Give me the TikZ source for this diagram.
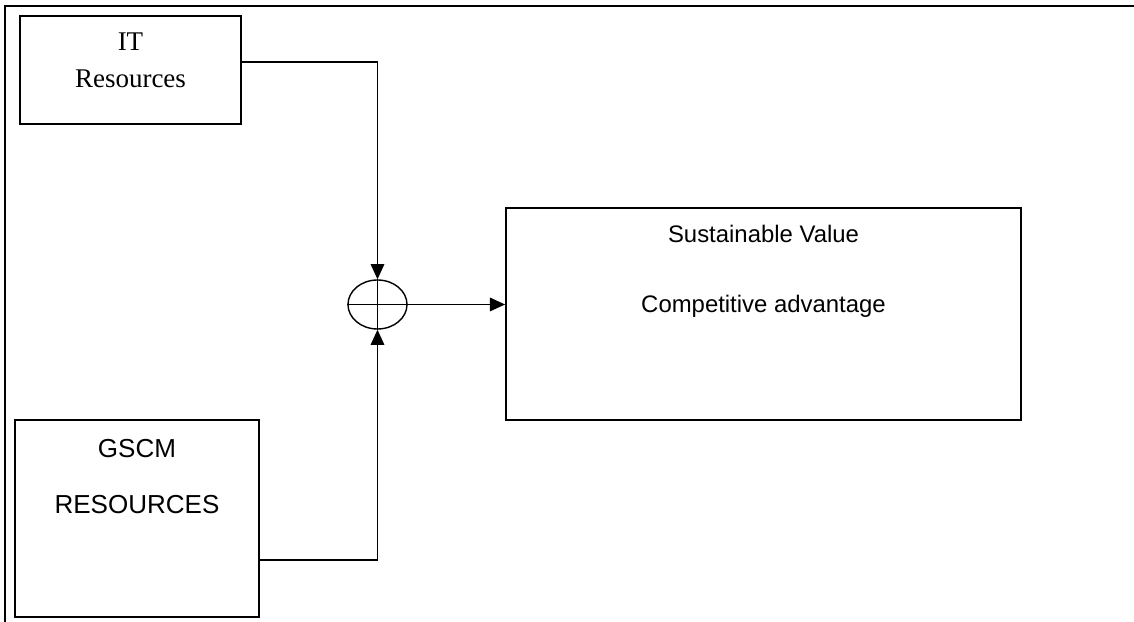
\documentclass[tikz,border=0pt]{standalone}
\usepackage{fontspec}
\setmainfont{Liberation Serif}
\setsansfont{Liberation Sans}
\usetikzlibrary{positioning, arrows.meta, shapes.geometric}

\begin{document}
\begin{tikzpicture}[
  x=0.025cm, y=-0.025cm,
  box/.style={draw, line width=1.2pt, inner sep=0pt},
  boxtext/.style={align=center, anchor=north, inner sep=0pt},
  sumnode/.style={draw, ellipse, line width=1pt, minimum width=1.475cm,
    minimum height=1.225cm, inner sep=0pt},
  link/.style={line width=1pt, -{Triangle[length=0.38cm, width=0.34cm]}},
  frame/.style={line width=2pt},
]
  \useasboundingbox (0,0) rectangle (1134,622);
  \draw[frame] (5,622) -- (5,6) -- (1134,6);
  % boxes
  \node[box, minimum width=5.525cm, minimum height=2.7cm] (it) at (130.5,70) {};
  \node[boxtext, font=\fontsize{19.2}{26.3}\selectfont] (itlabel) at (130.5,33) {IT\\Resources};
  \node[box, minimum width=6.1cm, minimum height=4.925cm] (gscm) at (137,518.5) {};
  \node[boxtext, font=\sffamily\fontsize{18.5}{39.8}\selectfont] (gscmlabel) at (137,439) {GSCM\\RESOURCES};
  \node[box, minimum width=12.875cm, minimum height=5.3cm] (value) at (763.5,314) {};
  \node[boxtext, font=\sffamily\fontsize{17}{49.8}\selectfont] (valuelabel) at (763.5,225) {Sustainable Value\\Competitive advantage};
  % summing junction
  \node[sumnode] (sum) at (377.5,304.5) {};
  \draw[line width=1pt] (sum.north) -- (sum.south) (sum.west) -- (sum.east);
  % connectors
  \draw[link] ([yshift=0.2cm]it.east) -| (sum.north);
  \draw[link] ([yshift=-1.04cm]gscm.east) -| (sum.south);
  \draw[link] (sum.east) -- (sum.east -| value.west);
\end{tikzpicture}
\end{document}
